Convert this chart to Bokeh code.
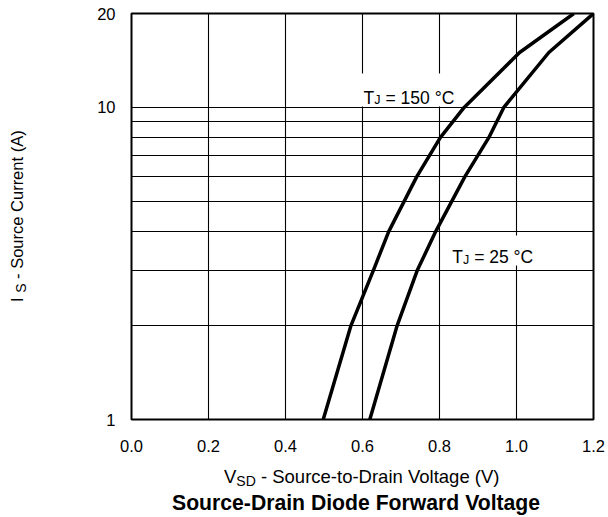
from bokeh.plotting import figure
from bokeh.models import FixedTicker, PrintfTickFormatter, Label, BoxAnnotation, Div
from bokeh.layouts import row, column
from bokeh.embed import file_html
from bokeh.resources import INLINE

# ---- data -------------------------------------------------------------
x_ticks = [0.0, 0.2, 0.4, 0.6, 0.8, 1.0, 1.2]
y_grid_ticks = [1, 2, 3, 4, 5, 6, 7, 8, 9, 10, 20]
y_label_ticks = [1, 10, 20]

# T_J = 150 C
i_150 = [1.0, 2.0, 3.0, 4.0, 6.0, 8.0, 10.0, 15.0, 20.0]
v_150 = [0.498, 0.570, 0.628, 0.668, 0.741, 0.802, 0.864, 1.008, 1.149]
# T_J = 25 C
i_25 = [1.0, 2.0, 3.0, 4.0, 6.0, 8.0, 10.0, 15.0, 20.0]
v_25 = [0.619, 0.690, 0.742, 0.790, 0.866, 0.928, 0.967, 1.084, 1.200]

x_title_main = "V"
x_title_sub = "SD"
x_title_rest = " - Source-to-Drain Voltage (V)"
y_title_main = "I"
y_title_sub = "S"
y_title_rest = " - Source Current (A)"
chart_title = "Source-Drain Diode Forward Voltage"

FONT = "Liberation Sans"
YDIV_W = 36
FIG_H = 459

p = figure(
    frame_width=462, frame_height=406,
    min_border_left=95, min_border_right=15, min_border_top=13, min_border_bottom=40,
    width=572, height=FIG_H,
    x_range=(0, 1.2), y_range=(1, 20), y_axis_type="log",
    output_backend="svg", toolbar_location=None, tools="",
)
p.background_fill_color = "white"
p.border_fill_color = "white"
p.outline_line_color = "black"
p.outline_line_width = 2

# axes
p.xaxis.ticker = FixedTicker(ticks=x_ticks)
p.xaxis.formatter = PrintfTickFormatter(format="%.1f")
p.yaxis.ticker = FixedTicker(ticks=y_label_ticks)
p.yaxis.formatter = PrintfTickFormatter(format="%d")
for ax in (p.xaxis, p.yaxis):
    ax.axis_line_color = None
    ax.major_tick_line_color = None
    ax.minor_tick_line_color = None
    ax.major_label_text_font = FONT
    ax.major_label_text_font_size = "16.5px"
    ax.major_label_text_color = "black"
p.xaxis.major_label_standoff = 14
p.yaxis.major_label_standoff = 10

# grids
p.xgrid.ticker = FixedTicker(ticks=x_ticks)
p.ygrid.ticker = FixedTicker(ticks=y_grid_ticks)
for g in (p.xgrid, p.ygrid):
    g.grid_line_color = "black"
    g.grid_line_width = 1.1
    g.grid_line_alpha = 1.0

# white boxes behind annotations (screen units relative to frame)
box150 = BoxAnnotation(left=226, right=331, top=346, bottom=313,
                       left_units="screen", right_units="screen",
                       top_units="screen", bottom_units="screen",
                       fill_color="white", fill_alpha=1.0, line_color=None, level="underlay")
box25 = BoxAnnotation(left=312, right=406, top=184, bottom=154,
                      left_units="screen", right_units="screen",
                      top_units="screen", bottom_units="screen",
                      fill_color="white", fill_alpha=1.0, line_color=None, level="underlay")
p.add_layout(box150)
p.add_layout(box25)

# curves
p.line(v_150, i_150, line_color="black", line_width=3.5)
p.line(v_25, i_25, line_color="black", line_width=3.5)


def lab(text, x, y, size):
    p.add_layout(Label(text=text, x=x, y=y, x_units="screen", y_units="screen",
                       text_font=FONT, text_font_size=size, text_color="black",
                       text_align="left", text_baseline="alphabetic"))


# T_J = 150 C
lab("T", 232, 322, "17.5px")
lab("J", 242.7, 319.5, "12.5px")
lab("= 150 \u00b0C", 254.0, 322, "17.5px")
# T_J = 25 C
lab("T", 320.7, 162.3, "17.5px")
lab("J", 331.4, 159.8, "12.5px")
lab("= 25 \u00b0C", 342.7, 162.3, "17.5px")

# ---- titles as HTML (subscripts) ------------------------------------
ytext = (
    f'<div style="width:{FIG_H}px;height:{YDIV_W}px;transform-origin:0 0;'
    f'transform:translate(0px,{FIG_H}px) rotate(-90deg);'
    f'box-sizing:border-box;padding-left:{FIG_H - 302}px;padding-top:8px;'
    f'font-family:\'{FONT}\';font-size:16.5px;line-height:18.4px;color:black;'
    f'white-space:pre;text-align:left;">'
    f'{y_title_main} <sub style="font-size:14px;vertical-align:-3px;line-height:0;">'
    f'{y_title_sub}</sub>{y_title_rest}</div>'
)
ydiv = Div(text=ytext, width=YDIV_W, height=FIG_H, margin=0,
           styles={"overflow": "visible"})

xtext = (
    f'<div style="box-sizing:border-box;padding-left:224px;padding-top:8px;'
    f'font-family:\'{FONT}\';font-size:18.5px;line-height:20px;color:black;'
    f'white-space:pre;text-align:left;">'
    f'{x_title_main}<sub style="font-size:14px;vertical-align:-3px;line-height:0;">'
    f'{x_title_sub}</sub>{x_title_rest}</div>'
)
xdiv = Div(text=xtext, width=608, height=31, margin=0, styles={"overflow": "visible"})

ttext = (
    f'<div style="box-sizing:border-box;padding-left:172px;padding-top:1px;'
    f'font-family:\'{FONT}\';font-size:21.2px;font-weight:bold;line-height:24px;'
    f'color:black;white-space:pre;text-align:left;">{chart_title}</div>'
)
tdiv = Div(text=ttext, width=608, height=26, margin=0, styles={"overflow": "visible"})

layout = column(row(ydiv, p, spacing=0), xdiv, tdiv, spacing=0)

open("out.html", "w").write(file_html(layout, INLINE))
